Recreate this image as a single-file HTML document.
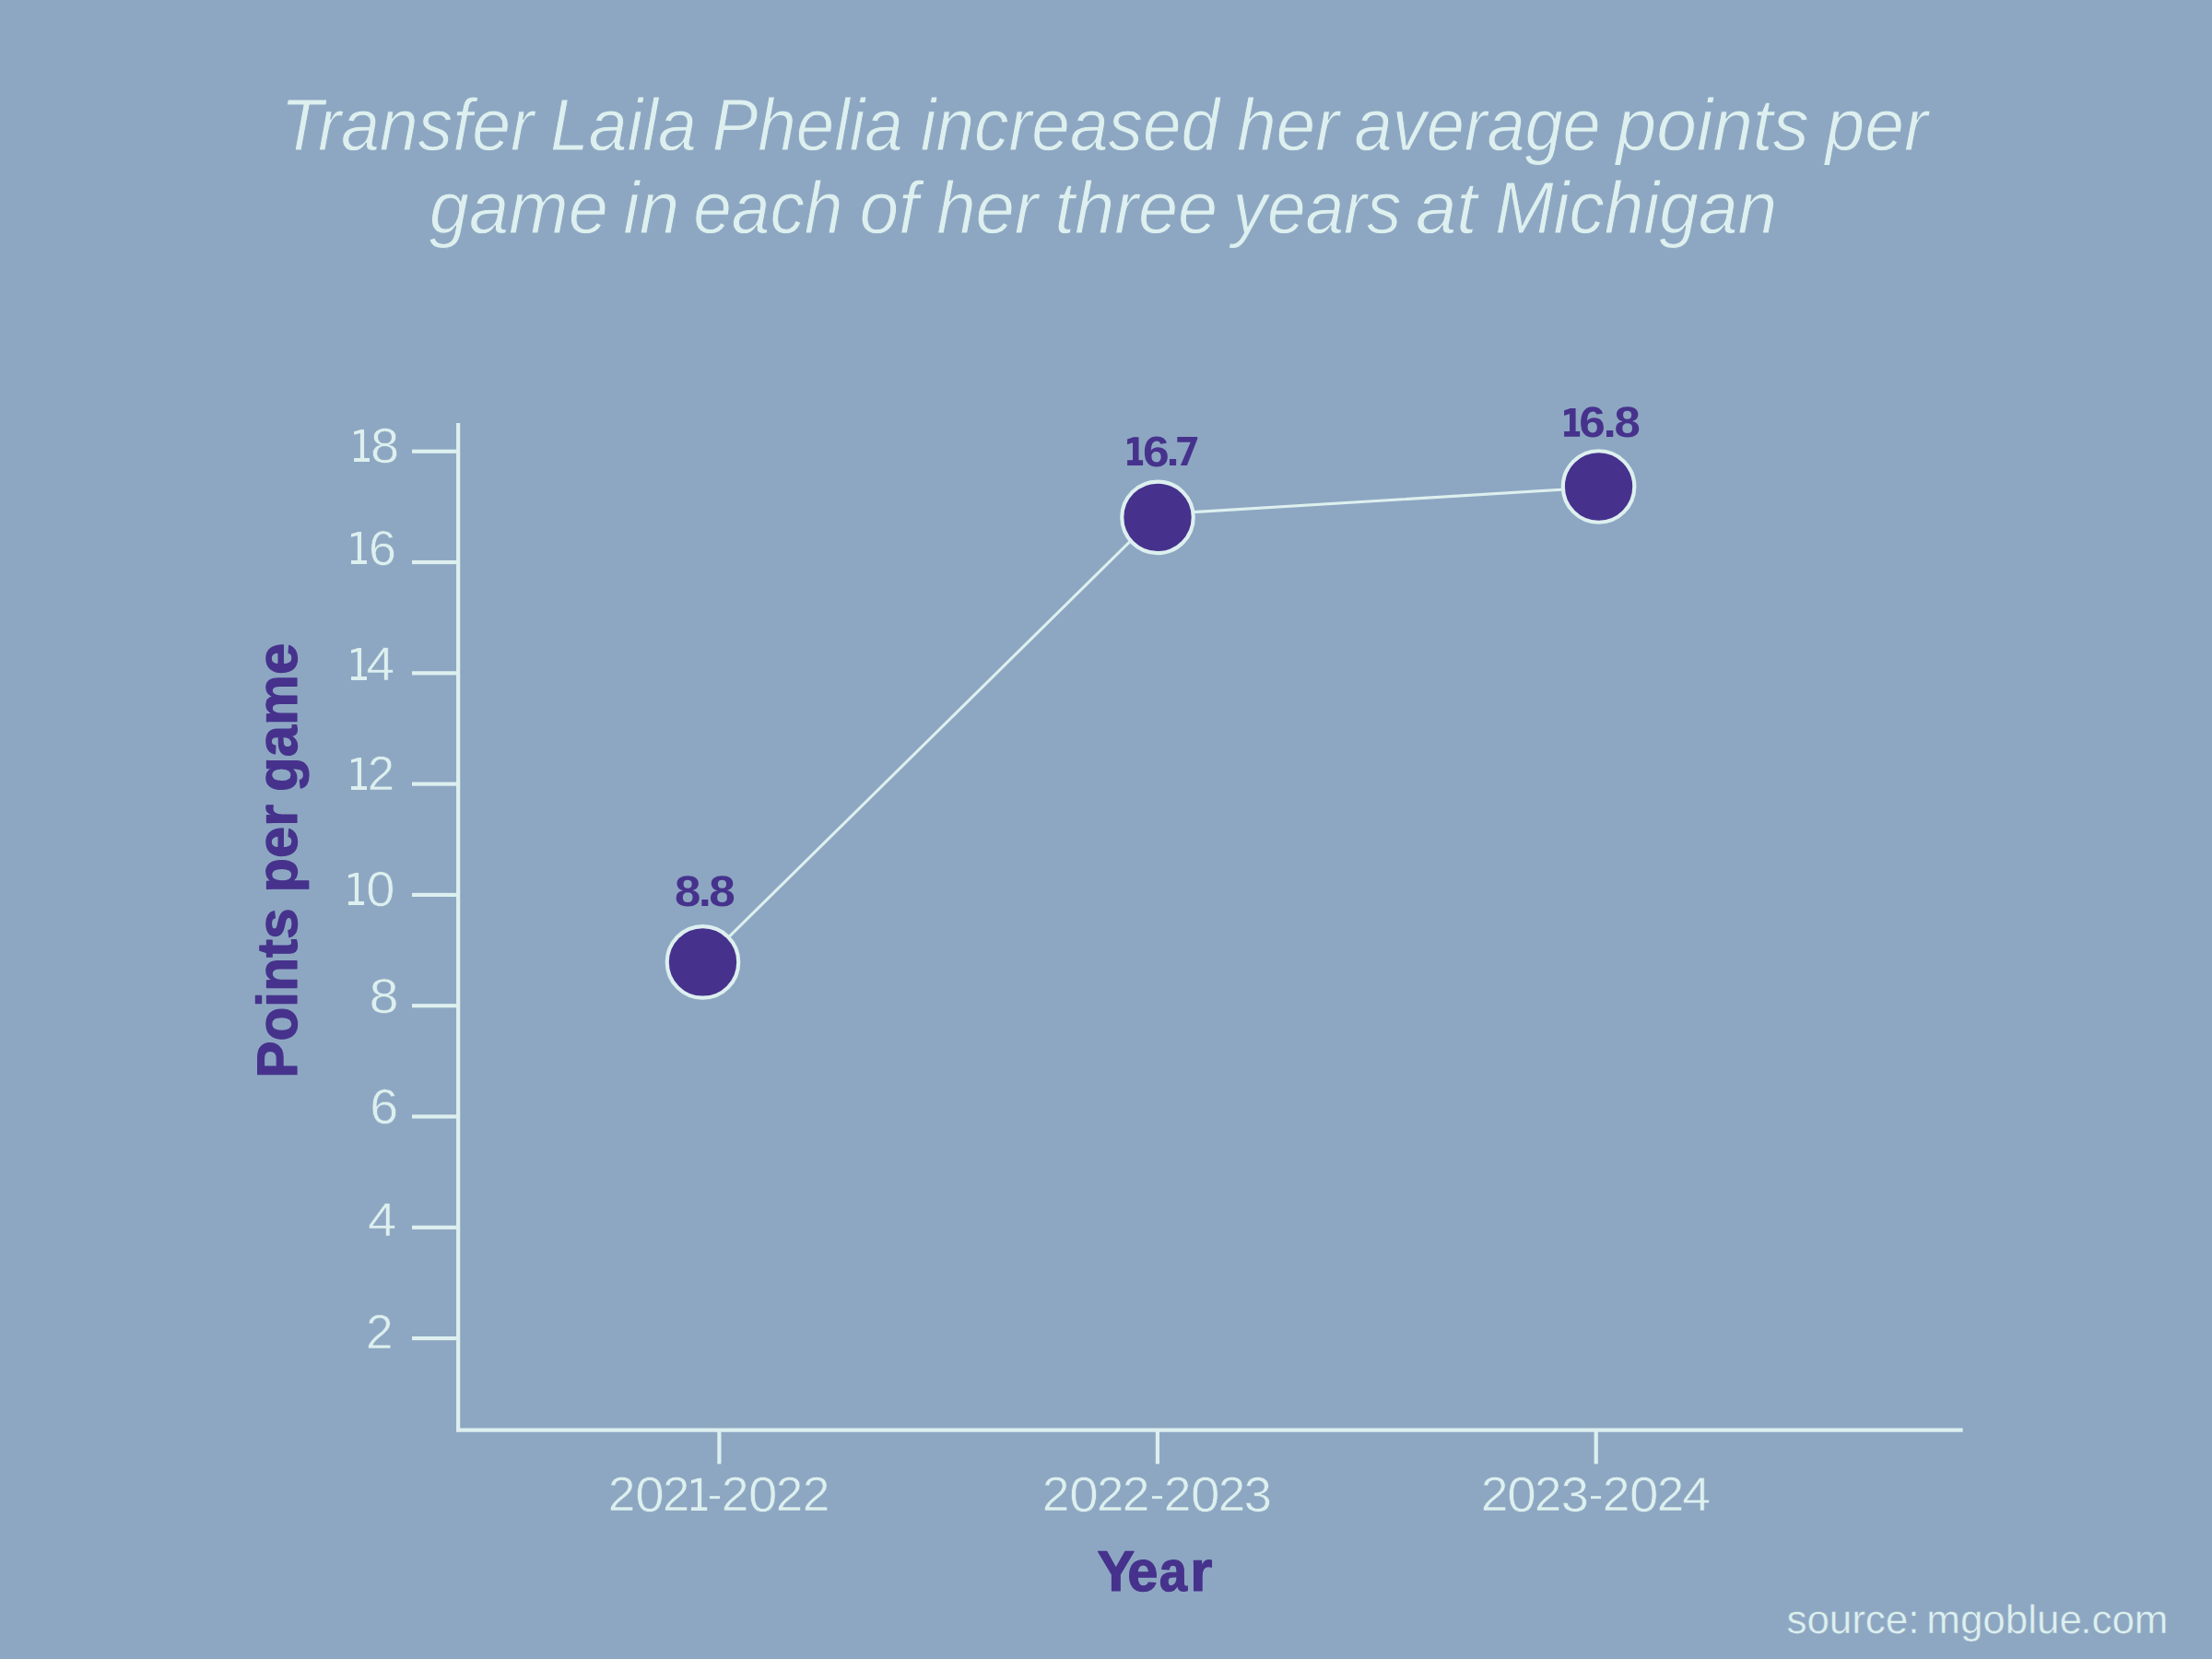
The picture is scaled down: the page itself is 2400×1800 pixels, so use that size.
<!DOCTYPE html>
<html><head><meta charset="utf-8"><title>Chart</title>
<style>html,body{margin:0;padding:0;background:#8da7c2;}svg{display:block;font-family:"Liberation Sans",sans-serif;text-rendering:geometricPrecision;}</style></head><body>
<svg width="2400" height="1800" viewBox="0 0 2400 1800">
<rect width="2400" height="1800" fill="#8da7c2"/>
<text transform="translate(0,163.20)" font-size="80" fill="#ddf0ef" font-style="italic" stroke="#8da7c2" stroke-width="1.0" stroke-linejoin="round"><tspan x="304.51" textLength="274.55" lengthAdjust="spacingAndGlyphs">Transfer</tspan> <tspan x="597.08" textLength="158.70" lengthAdjust="spacingAndGlyphs">Laila</tspan> <tspan x="772.71" textLength="206.90" lengthAdjust="spacingAndGlyphs">Phelia</tspan> <tspan x="998.80" textLength="324.34" lengthAdjust="spacingAndGlyphs">increased</tspan> <tspan x="1341.92" textLength="110.83" lengthAdjust="spacingAndGlyphs">her</tspan> <tspan x="1469.62" textLength="267.08" lengthAdjust="spacingAndGlyphs">average</tspan> <tspan x="1753.52" textLength="209.27" lengthAdjust="spacingAndGlyphs">points</tspan> <tspan x="1980.49" textLength="110.96" lengthAdjust="spacingAndGlyphs">per</tspan></text>
<text transform="translate(0,252.60)" font-size="80" fill="#ddf0ef" font-style="italic" stroke="#8da7c2" stroke-width="1.0" stroke-linejoin="round"><tspan x="465.87" textLength="193.90" lengthAdjust="spacingAndGlyphs">game</tspan> <tspan x="676.33" textLength="60.69" lengthAdjust="spacingAndGlyphs">in</tspan> <tspan x="752.31" textLength="162.10" lengthAdjust="spacingAndGlyphs">each</tspan> <tspan x="932.43" textLength="63.84" lengthAdjust="spacingAndGlyphs">of</tspan> <tspan x="1016.23" textLength="109.93" lengthAdjust="spacingAndGlyphs">her</tspan> <tspan x="1144.60" textLength="176.46" lengthAdjust="spacingAndGlyphs">three</tspan> <tspan x="1337.52" textLength="182.82" lengthAdjust="spacingAndGlyphs">years</tspan> <tspan x="1535.96" textLength="66.52" lengthAdjust="spacingAndGlyphs">at</tspan> <tspan x="1621.93" textLength="306.02" lengthAdjust="spacingAndGlyphs">Michigan</tspan></text>
<path d="M497.14,459 V1551.7 H2129.6" fill="none" stroke="#ddf0ef" stroke-width="4.17" stroke-linejoin="miter"/>
<rect x="447" y="487.67" width="50" height="4.17" fill="#ddf0ef"/>
<rect x="447" y="607.95" width="50" height="4.17" fill="#ddf0ef"/>
<rect x="447" y="728.25" width="50" height="4.17" fill="#ddf0ef"/>
<rect x="447" y="848.53" width="50" height="4.17" fill="#ddf0ef"/>
<rect x="447" y="968.83" width="50" height="4.17" fill="#ddf0ef"/>
<rect x="447" y="1089.12" width="50" height="4.17" fill="#ddf0ef"/>
<rect x="447" y="1209.40" width="50" height="4.17" fill="#ddf0ef"/>
<rect x="447" y="1329.70" width="50" height="4.17" fill="#ddf0ef"/>
<rect x="447" y="1449.99" width="50" height="4.17" fill="#ddf0ef"/>
<rect x="778.31" y="1551.5" width="4.17" height="36.9" fill="#ddf0ef"/>
<rect x="1253.82" y="1551.5" width="4.17" height="36.9" fill="#ddf0ef"/>
<rect x="1729.62" y="1551.5" width="4.17" height="36.9" fill="#ddf0ef"/>
<path d="M395.09,465.90 V497.10 H401.00 V501.00 H384.10 V497.10 H390.91 V469.90 L384.10,471.85 V468.20 Q387.85,467.33 391.51,465.90 Z" fill="#ddf0ef"/>
<path d="M392.05,576.90 V608.10 H398.00 V612.00 H381.00 V608.10 H387.85 V580.90 L381.00,582.85 V579.20 Q384.77,578.33 388.45,576.90 Z" fill="#ddf0ef"/>
<path d="M392.05,702.90 V734.10 H398.00 V738.00 H381.00 V734.10 H387.85 V706.90 L381.00,708.85 V705.20 Q384.77,704.33 388.45,702.90 Z" fill="#ddf0ef"/>
<path d="M392.05,821.90 V853.10 H398.00 V857.00 H381.00 V853.10 H387.85 V825.90 L381.00,827.85 V824.20 Q384.77,823.33 388.45,821.90 Z" fill="#ddf0ef"/>
<path d="M389.08,946.90 V978.10 H395.05 V982.00 H378.00 V978.10 H384.87 V950.90 L378.00,952.85 V949.20 Q381.78,948.33 385.47,946.90 Z" fill="#ddf0ef"/>
<text transform="translate(401.91,501.84) scale(1.0780,1.0317)" font-size="52" fill="#ddf0ef" stroke="#8da7c2" stroke-width="0.6" stroke-linejoin="round">8</text>
<text transform="translate(399.95,612.74) scale(1.0354,1.0234)" font-size="52" fill="#ddf0ef" stroke="#8da7c2" stroke-width="0.6" stroke-linejoin="round">6</text>
<text transform="translate(397.41,738.25) scale(1.0591,0.9957)" font-size="52" fill="#ddf0ef" stroke="#8da7c2" stroke-width="0.6" stroke-linejoin="round">4</text>
<text transform="translate(398.83,857.25) scale(1.0141,1.0098)" font-size="52" fill="#ddf0ef" stroke="#8da7c2" stroke-width="0.6" stroke-linejoin="round">2</text>
<text transform="translate(397.27,982.79) scale(1.0791,1.0248)" font-size="52" fill="#ddf0ef" stroke="#8da7c2" stroke-width="0.6" stroke-linejoin="round">0</text>
<text transform="translate(400.42,1098.74) scale(1.1115,1.0234)" font-size="52" fill="#ddf0ef" stroke="#8da7c2" stroke-width="0.6" stroke-linejoin="round">8</text>
<text transform="translate(401.35,1218.74) scale(1.0696,1.0262)" font-size="52" fill="#ddf0ef" stroke="#8da7c2" stroke-width="0.6" stroke-linejoin="round">6</text>
<text transform="translate(399.09,1341.35) scale(1.0748,0.9957)" font-size="52" fill="#ddf0ef" stroke="#8da7c2" stroke-width="0.6" stroke-linejoin="round">4</text>
<text transform="translate(396.90,1463.35) scale(1.0228,1.0098)" font-size="52" fill="#ddf0ef" stroke="#8da7c2" stroke-width="0.6" stroke-linejoin="round">2</text>
<text transform="translate(659.75,1639.33) scale(1.0262,1.0159)" font-size="52" fill="#ddf0ef" stroke="#8da7c2" stroke-width="0.6" stroke-linejoin="round">2</text>
<text transform="translate(689.28,1639.88) scale(1.0873,1.0312)" font-size="52" fill="#ddf0ef" stroke="#8da7c2" stroke-width="0.6" stroke-linejoin="round">0</text>
<text transform="translate(718.92,1639.33) scale(1.0106,1.0159)" font-size="52" fill="#ddf0ef" stroke="#8da7c2" stroke-width="0.6" stroke-linejoin="round">2</text>
<path d="M761.18,1603.80 V1635.18 H767.25 V1639.08 H749.92 V1635.18 H756.90 V1607.80 L749.92,1609.75 V1606.10 Q753.76,1605.23 757.50,1603.80 Z" fill="#ddf0ef"/>
<rect x="769.9" y="1623.2" width="11.15" height="2.9" fill="#ddf0ef"/>
<text transform="translate(782.69,1639.33) scale(1.0271,1.0159)" font-size="52" fill="#ddf0ef" stroke="#8da7c2" stroke-width="0.6" stroke-linejoin="round">2</text>
<text transform="translate(812.06,1639.88) scale(1.0852,1.0312)" font-size="52" fill="#ddf0ef" stroke="#8da7c2" stroke-width="0.6" stroke-linejoin="round">0</text>
<text transform="translate(841.82,1639.33) scale(1.0184,1.0159)" font-size="52" fill="#ddf0ef" stroke="#8da7c2" stroke-width="0.6" stroke-linejoin="round">2</text>
<text transform="translate(870.85,1639.33) scale(1.0249,1.0159)" font-size="52" fill="#ddf0ef" stroke="#8da7c2" stroke-width="0.6" stroke-linejoin="round">2</text>
<text transform="translate(1130.75,1639.33) scale(1.0262,1.0159)" font-size="52" fill="#ddf0ef" stroke="#8da7c2" stroke-width="0.6" stroke-linejoin="round">2</text>
<text transform="translate(1160.28,1639.88) scale(1.0873,1.0312)" font-size="52" fill="#ddf0ef" stroke="#8da7c2" stroke-width="0.6" stroke-linejoin="round">0</text>
<text transform="translate(1189.92,1639.33) scale(1.0111,1.0159)" font-size="52" fill="#ddf0ef" stroke="#8da7c2" stroke-width="0.6" stroke-linejoin="round">2</text>
<text transform="translate(1217.73,1639.33) scale(1.0262,1.0159)" font-size="52" fill="#ddf0ef" stroke="#8da7c2" stroke-width="0.6" stroke-linejoin="round">2</text>
<rect x="1250.0" y="1623.2" width="11.05" height="2.9" fill="#ddf0ef"/>
<text transform="translate(1262.69,1639.33) scale(1.0262,1.0159)" font-size="52" fill="#ddf0ef" stroke="#8da7c2" stroke-width="0.6" stroke-linejoin="round">2</text>
<text transform="translate(1292.05,1639.88) scale(1.0869,1.0312)" font-size="52" fill="#ddf0ef" stroke="#8da7c2" stroke-width="0.6" stroke-linejoin="round">0</text>
<text transform="translate(1321.84,1639.33) scale(1.0189,1.0159)" font-size="52" fill="#ddf0ef" stroke="#8da7c2" stroke-width="0.6" stroke-linejoin="round">2</text>
<text transform="translate(1349.76,1639.88) scale(1.0398,1.0312)" font-size="52" fill="#ddf0ef" stroke="#8da7c2" stroke-width="0.6" stroke-linejoin="round">3</text>
<text transform="translate(1606.75,1639.33) scale(1.0262,1.0159)" font-size="52" fill="#ddf0ef" stroke="#8da7c2" stroke-width="0.6" stroke-linejoin="round">2</text>
<text transform="translate(1635.28,1639.88) scale(1.0873,1.0312)" font-size="52" fill="#ddf0ef" stroke="#8da7c2" stroke-width="0.6" stroke-linejoin="round">0</text>
<text transform="translate(1664.97,1639.33) scale(1.0137,1.0159)" font-size="52" fill="#ddf0ef" stroke="#8da7c2" stroke-width="0.6" stroke-linejoin="round">2</text>
<text transform="translate(1693.82,1639.88) scale(1.0398,1.0312)" font-size="52" fill="#ddf0ef" stroke="#8da7c2" stroke-width="0.6" stroke-linejoin="round">3</text>
<rect x="1726.0" y="1623.2" width="11.05" height="2.9" fill="#ddf0ef"/>
<text transform="translate(1738.69,1639.33) scale(1.0262,1.0159)" font-size="52" fill="#ddf0ef" stroke="#8da7c2" stroke-width="0.6" stroke-linejoin="round">2</text>
<text transform="translate(1768.05,1639.88) scale(1.0869,1.0312)" font-size="52" fill="#ddf0ef" stroke="#8da7c2" stroke-width="0.6" stroke-linejoin="round">0</text>
<text transform="translate(1797.84,1639.33) scale(1.0189,1.0159)" font-size="52" fill="#ddf0ef" stroke="#8da7c2" stroke-width="0.6" stroke-linejoin="round">2</text>
<text transform="translate(1825.20,1639.33) scale(1.0681,1.0009)" font-size="52" fill="#ddf0ef" stroke="#8da7c2" stroke-width="0.6" stroke-linejoin="round">4</text>
<text transform="translate(0,1726.40)" font-size="62" fill="#46328c" font-weight="bold" stroke="#46328c" stroke-width="1.2" stroke-linejoin="round"><tspan x="1190.53" textLength="40.62" lengthAdjust="spacingAndGlyphs">Y</tspan><tspan x="1223.21" textLength="33.22" lengthAdjust="spacingAndGlyphs">e</tspan><tspan x="1257.73" textLength="30.28" lengthAdjust="spacingAndGlyphs">a</tspan><tspan x="1291.30" textLength="24.15" lengthAdjust="spacingAndGlyphs">r</tspan></text>
<text transform="translate(321.90,0) rotate(-90)" font-size="61.6" fill="#46328c" font-weight="bold" stroke="#46328c" stroke-width="1.2" stroke-linejoin="round"><tspan x="-1169.73" textLength="184.35" lengthAdjust="spacingAndGlyphs">Points</tspan> <tspan x="-968.56" textLength="95.61" lengthAdjust="spacingAndGlyphs">per</tspan> <tspan x="-858.93" textLength="161.17" lengthAdjust="spacingAndGlyphs">game</tspan></text>
<text transform="translate(0,1772) scale(1.0026,1)" font-size="43.8" fill="#ddf0ef" stroke="#8da7c2" stroke-width="0.4" stroke-linejoin="round"><tspan x="1933.43">source: </tspan><tspan x="2084.96">mgoblue</tspan><tspan x="2251.41">.com</tspan></text>
<polyline points="762.5,1044.5 1256,558 1734.5,528.7" fill="none" stroke="#ddf0ef" stroke-width="3.1"/>
<circle cx="762.5" cy="1043.95" r="38.75" fill="#46328c" stroke="#ddf0ef" stroke-width="4.17"/>
<circle cx="1256" cy="561.3" r="38.75" fill="#46328c" stroke="#ddf0ef" stroke-width="4.17"/>
<circle cx="1734.55" cy="528.0" r="38.75" fill="#46328c" stroke="#ddf0ef" stroke-width="4.17"/>
<text transform="translate(731.98,983.39) scale(1.1060,1.0178)" font-size="46" fill="#46328c" font-weight="bold">8</text>
<text transform="translate(757.88,983.00) scale(1.0740,1.0220)" font-size="46" fill="#46328c" font-weight="bold">.</text>
<text transform="translate(769.37,983.39) scale(1.1148,1.0178)" font-size="46" fill="#46328c" font-weight="bold">8</text>
<text transform="translate(1240.11,505.59) scale(1.1204,1.0147)" font-size="46" fill="#46328c" font-weight="bold">6</text>
<text transform="translate(1265.59,505.10) scale(1.1043,1.0220)" font-size="46" fill="#46328c" font-weight="bold">.</text>
<text transform="translate(1713.32,474.49) scale(1.1159,1.0178)" font-size="46" fill="#46328c" font-weight="bold">6</text>
<text transform="translate(1739.54,473.80) scale(1.1194,1.0220)" font-size="46" fill="#46328c" font-weight="bold">.</text>
<text transform="translate(1751.38,474.49) scale(1.1060,1.0178)" font-size="46" fill="#46328c" font-weight="bold">8</text>
<path d="M1235.51,474.30 V499.25 H1240.10 V505.10 H1223.10 V499.25 H1229.04 V480.27 L1223.10,482.17 V476.47 Q1226.37,475.65 1229.64,474.30 Z" fill="#46328c"/>
<path d="M1277.3,473.9 H1299.2 V476.3 L1287.9,505.1 H1280.85 L1291.7,479.85 H1277.3 Z" fill="#46328c"/>
<path d="M1709.57,443.02 V467.98 H1714.18 V473.83 H1697.09 V467.98 H1703.06 V448.99 L1697.09,450.89 V445.19 Q1700.37,444.37 1703.66,443.02 Z" fill="#46328c"/>
</svg></body></html>
